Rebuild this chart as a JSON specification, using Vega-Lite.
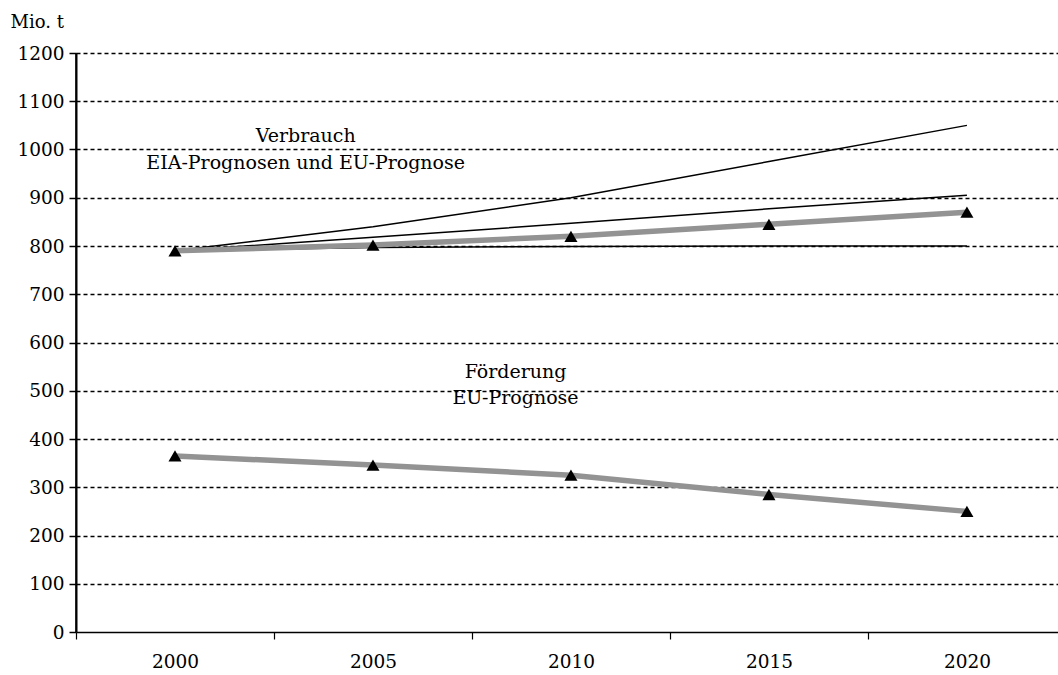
{
  "$schema": "https://vega.github.io/schema/vega-lite/v6.json",
  "autosize": "none",
  "width": 982,
  "height": 579,
  "padding": {"left": 76, "top": 53, "right": 0, "bottom": 43},
  "background": "white",
  "config": {
    "view": {"stroke": null},
    "font": "DejaVu Serif",
    "axis": {"labelFont": "DejaVu Serif", "titleFont": "DejaVu Serif", "labelColor": "black", "titleColor": "black", "domainColor": "black", "tickColor": "black", "labelFontSize": 18.5, "titleFontSize": 18, "titleFontWeight": "normal", "domainWidth": 1.5, "tickWidth": 1.2}
  },
  "datasets": {
    "series": [
      {"series": "EIA hoch", "year": 2000, "value": 790},
      {"series": "EIA hoch", "year": 2005, "value": 840},
      {"series": "EIA hoch", "year": 2010, "value": 900},
      {"series": "EIA hoch", "year": 2015, "value": 975},
      {"series": "EIA hoch", "year": 2020, "value": 1050},
      {"series": "EIA mittel", "year": 2000, "value": 790},
      {"series": "EIA mittel", "year": 2005, "value": 818},
      {"series": "EIA mittel", "year": 2010, "value": 847},
      {"series": "EIA mittel", "year": 2015, "value": 877},
      {"series": "EIA mittel", "year": 2020, "value": 905},
      {"series": "EIA niedrig", "year": 2000, "value": 790},
      {"series": "EIA niedrig", "year": 2005, "value": 797},
      {"series": "EIA niedrig", "year": 2010, "value": 799},
      {"series": "EIA niedrig", "year": 2015, "value": 800},
      {"series": "EIA niedrig", "year": 2020, "value": 800},
      {"series": "EU Verbrauch", "year": 2000, "value": 790},
      {"series": "EU Verbrauch", "year": 2005, "value": 802},
      {"series": "EU Verbrauch", "year": 2010, "value": 820},
      {"series": "EU Verbrauch", "year": 2015, "value": 845},
      {"series": "EU Verbrauch", "year": 2020, "value": 870},
      {"series": "EU Förderung", "year": 2000, "value": 365},
      {"series": "EU Förderung", "year": 2005, "value": 346},
      {"series": "EU Förderung", "year": 2010, "value": 325},
      {"series": "EU Förderung", "year": 2015, "value": 285},
      {"series": "EU Förderung", "year": 2020, "value": 250}
    ],
    "labels": [
      {"label": "Verbrauch", "year": 2003.3, "value": 1028},
      {"label": "EIA-Prognosen und EU-Prognose", "year": 2003.3, "value": 972},
      {"label": "Förderung", "year": 2008.6, "value": 538},
      {"label": "EU-Prognose", "year": 2008.6, "value": 484}
    ]
  },
  "resolve": {"axis": {"x": "independent", "y": "independent"}},
  "layer": [
    {
      "data": {"name": "series"},
      "transform": [{"filter": "indexof(datum.series, 'EIA') == 0"}],
      "mark": {"type": "line", "color": "black", "strokeWidth": 1.5},
      "encoding": {
        "detail": {"field": "series"},
        "x": {"field": "year", "type": "quantitative", "scale": {"domain": [1997.5, 2022.3], "nice": false, "zero": false}, "axis": {"orient": "bottom", "values": [1997.5, 2002.5, 2007.5, 2012.5, 2017.5], "labels": false, "tickSize": 7, "grid": false, "title": null}},
        "y": {"field": "value", "type": "quantitative", "scale": {"domain": [0, 1200], "nice": false}, "axis": {"orient": "left", "grid": true, "gridColor": "black", "gridDash": [4, 3], "gridWidth": 1.5, "gridOpacity": 1, "domain": false, "ticks": false, "labels": false, "title": null, "values": [100, 200, 300, 400, 500, 600, 700, 800, 900, 1000, 1100, 1200]}}
      }
    },
    {
      "data": {"name": "series"},
      "transform": [{"filter": "indexof(datum.series, 'EU') == 0"}],
      "mark": {"type": "line", "color": "#939393", "strokeWidth": 5.5},
      "encoding": {
        "detail": {"field": "series"},
        "x": {"field": "year", "type": "quantitative", "axis": {"orient": "bottom", "values": [2000, 2005, 2010, 2015, 2020], "format": "d", "ticks": false, "domain": false, "grid": false, "labelPadding": 20, "title": null}},
        "y": {"field": "value", "type": "quantitative", "axis": {"orient": "left", "grid": false, "domain": true, "domainColor": "#000000", "domainWidth": 2, "ticks": true, "tickColor": "#000000", "tickWidth": 1.5, "tickSize": 7, "labelPadding": 5, "values": [0, 100, 200, 300, 400, 500, 600, 700, 800, 900, 1000, 1100, 1200], "format": "d", "title": "Mio. t", "titleAngle": 0, "titleAlign": "left", "titleBaseline": "alphabetic", "titleX": -66, "titleY": -26}}
      }
    },
    {
      "data": {"name": "series"},
      "transform": [{"filter": "indexof(datum.series, 'EU') == 0"}],
      "mark": {"type": "point", "shape": "triangle-up", "filled": true, "color": "black", "opacity": 1, "size": 170},
      "encoding": {
        "x": {"field": "year", "type": "quantitative", "axis": null},
        "y": {"field": "value", "type": "quantitative", "axis": null}
      }
    },
    {
      "data": {"values": [{}]},
      "mark": {"type": "rule", "color": "black", "strokeWidth": 1.5},
      "encoding": {
        "x": {"datum": 1997.5, "type": "quantitative", "axis": null},
        "y": {"datum": 0, "type": "quantitative", "axis": null},
        "y2": {"datum": 1200}
      }
    },
    {
      "data": {"name": "labels"},
      "mark": {"type": "text", "font": "DejaVu Serif", "fontSize": 19, "color": "black", "align": "center", "baseline": "middle"},
      "encoding": {
        "x": {"field": "year", "type": "quantitative", "axis": null},
        "y": {"field": "value", "type": "quantitative", "axis": null},
        "text": {"field": "label"}
      }
    }
  ]
}
